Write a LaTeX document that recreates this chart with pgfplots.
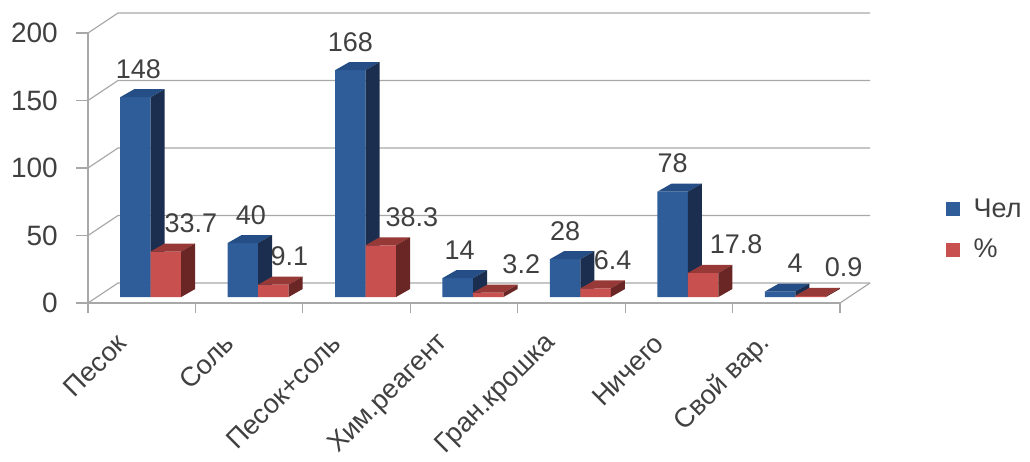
\documentclass[border=0pt]{standalone}
\usepackage{fontspec}
\setmainfont{Liberation Sans}
\usepackage{pgfplots}
\usepackage{pgfplotstable}
\pgfplotsset{compat=1.18}
\pgfplotsset{/pgf/number format/assume math mode=true}
\definecolor{bfront}{HTML}{2F5D9A}
\definecolor{btop}{HTML}{244E85}
\definecolor{bside}{HTML}{1B2E4F}
\definecolor{rfront}{HTML}{C8504E}
\definecolor{rtop}{HTML}{973A37}
\definecolor{rside}{HTML}{6A2624}
\definecolor{txt}{HTML}{404040}
\definecolor{gridc}{HTML}{A8A8A8}

% idx, people, percent, label x-offsets (pt) for the two series
\pgfplotstableread{
idx chel pct bdx rdx
0 148 33.7 3 25
1 40 9.1 8 16
2 168 38.3 0 31
3 14 3.2 2 33
4 28 6.4 0 17
5 78 17.8 0 33
6 4 0.9 15 33
}\datatable

\begin{document}
\begin{tikzpicture}
% ---------- frame: walls, ticks, labels, legend ----------
\begin{axis}[
  at={(0pt,0pt)}, anchor=south west,
  x=107.43pt, y=1.35pt,
  xmin=0, xmax=7, ymin=0, ymax=200,
  clip=false,
  axis x line=bottom, axis y line=left,
  axis line style={gridc, line width=1.2pt, -},
  ytick={0,50,100,150,200},
  xtick={0.5,1.5,2.5,3.5,4.5,5.5,6.5},
  xticklabels={Песок,Соль,Песок+соль,Хим.реагент,Гран.крошка,Ничего,Свой вар.},
  minor xtick={0,1,2,3,4,5,6,7},
  tick align=outside,
  major tick length=12pt,
  minor tick length=10pt,
  major x tick style={draw=none},
  minor x tick style={gridc, line width=1.2pt},
  major y tick style={gridc, line width=1.2pt},
  yticklabel style={font=\fontsize{28}{32}\selectfont, text=txt, anchor=east, inner sep=0pt, xshift=-18pt},
  xticklabel style={font=\fontsize{27}{32}\selectfont, text=txt, xshift=-20pt, yshift=-24pt, rotate=45, anchor=east, inner sep=0pt},
  legend style={at={(1.137,0.393)}, anchor=north west, draw=none, fill=none,
    font=\fontsize{27}{32}\selectfont, text=txt, row sep=20pt, column sep=14pt,
    nodes={inner sep=0pt}},
  legend cell align=left,
]
\pgfplotsinvokeforeach{0,50,100,150,200}{
  \draw[gridc, line width=1.2pt] (axis cs:0,#1) -- ++(30pt,20pt) -- ++(752pt,0pt);
}
\draw[gridc, line width=1.2pt] (axis cs:7,0) -- ++(30pt,20pt);
\addlegendimage{legend image code/.code={\fill[bfront] (0pt,-6.5pt) rectangle (13pt,6.5pt);}}
\addlegendentry{Чел}
\addlegendimage{legend image code/.code={\fill[rfront] (0pt,-6.5pt) rectangle (13pt,6.5pt);}}
\addlegendentry{\%}
\end{axis}

% ---------- bars (set back into the box by half its depth) ----------
\begin{axis}[
  at={(9pt,6pt)}, anchor=south west,
  x=107.43pt, y=1.35pt,
  xmin=0, xmax=7, ymin=0, ymax=200,
  hide axis, clip=false,
  every node near coord/.append style={font=\fontsize{27}{32}\selectfont, text=txt, anchor=base, inner sep=0pt},
]
\addplot[ybar, bar width=0.284, bar shift=0, fill=bfront, draw=none,
  nodes near coords,
  visualization depends on={\thisrow{bdx} \as \bdx},
  every node near coord/.append style={xshift=\bdx pt, yshift=19pt}]
  table[x expr=\thisrow{idx}+0.358, y=chel] {\datatable};
\pgfplotsinvokeforeach{0,...,6}{
  \pgfplotstablegetelem{#1}{chel}\of\datatable
  \edef\temp{%
    \noexpand\fill[btop] (axis cs:#1.216,\pgfplotsretval) -- ++(30.5pt,0pt) -- ++(14pt,8pt) -- ++(-30.5pt,0pt) -- cycle;
    \noexpand\fill[bside] (axis cs:#1.5,0) -- (axis cs:#1.5,\pgfplotsretval) -- ++(14pt,8pt) -- ([shift={(14pt,8pt)}]axis cs:#1.5,0) -- cycle;
  }\temp
}
\addplot[ybar, bar width=0.284, bar shift=0, fill=rfront, draw=none,
  nodes near coords,
  visualization depends on={\thisrow{rdx} \as \rdx},
  every node near coord/.append style={xshift=\rdx pt, yshift=19pt}]
  table[x expr=\thisrow{idx}+0.642, y=pct] {\datatable};
\pgfplotsinvokeforeach{0,...,6}{
  \pgfplotstablegetelem{#1}{pct}\of\datatable
  \edef\temp{%
    \noexpand\fill[rtop] (axis cs:#1.5,\pgfplotsretval) -- ++(30.5pt,0pt) -- ++(14pt,8pt) -- ++(-30.5pt,0pt) -- cycle;
    \noexpand\fill[rside] (axis cs:#1.784,0) -- (axis cs:#1.784,\pgfplotsretval) -- ++(14pt,8pt) -- ([shift={(14pt,8pt)}]axis cs:#1.784,0) -- cycle;
  }\temp
}
\end{axis}
\pgfresetboundingbox
\path[use as bounding box] (-88pt,-158pt) rectangle (942pt,303pt);
\end{tikzpicture}
\end{document}
